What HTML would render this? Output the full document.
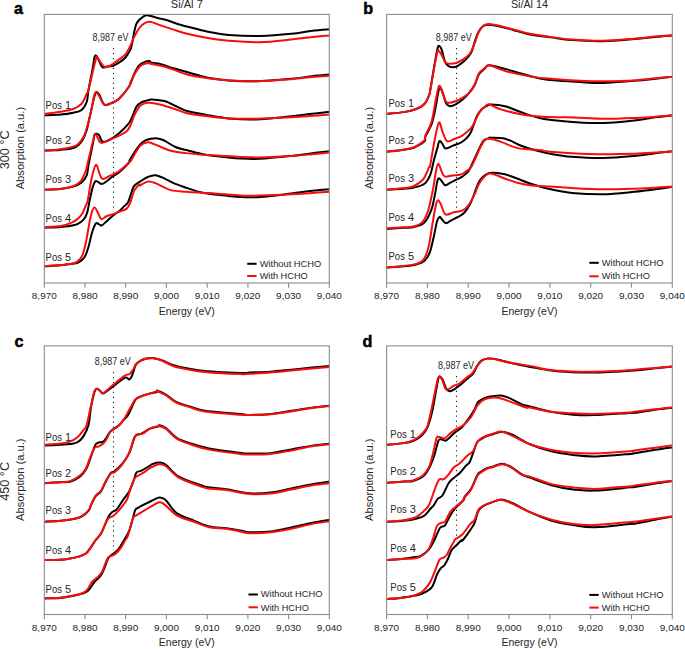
<!DOCTYPE html>
<html><head><meta charset="utf-8"><style>
html,body{margin:0;padding:0;background:#fff;width:685px;height:649px;overflow:hidden}
svg{display:block}
</style></head><body>
<svg width="685" height="649" viewBox="0 0 685 649">
<rect width="685" height="649" fill="#fff"/>
<clipPath id="clipa"><rect x="44.3" y="11.4" width="285.0" height="271.6"/></clipPath>
<line x1="113.5" y1="48.0" x2="113.5" y2="211.5" stroke="#222" stroke-width="1.1" stroke-dasharray="1.25,3.7"/>
<g clip-path="url(#clipa)" fill="none" stroke-width="2" stroke-linejoin="round" stroke-linecap="round">
<path stroke="#000" d="M44.00,266.37 C46.78,266.19 56.37,265.70 60.70,265.32 C65.03,264.94 67.01,264.61 70.00,264.10 C72.99,263.59 76.16,263.48 78.63,262.25 C81.09,261.02 83.15,259.27 84.79,256.70 C86.44,254.13 87.26,250.95 88.49,246.84 C89.72,242.73 90.96,235.95 92.19,232.05 C93.42,228.15 94.65,224.65 95.89,223.42 C97.12,222.19 98.56,224.35 99.58,224.65 C100.61,224.96 100.82,225.89 102.05,225.27 C103.28,224.65 105.13,222.60 106.98,220.96 C108.83,219.31 111.09,217.05 113.14,215.41 C115.20,213.76 117.46,212.63 119.31,211.09 C121.16,209.55 122.80,207.60 124.24,206.16 C125.68,204.73 126.91,204.20 127.94,202.47 C128.96,200.73 129.37,198.51 130.40,195.75 C131.43,192.98 132.50,188.24 134.10,185.89 C135.70,183.53 137.73,183.11 140.00,181.63 C142.27,180.15 145.14,178.09 147.70,177.01 C150.27,175.93 152.58,174.90 155.41,175.16 C158.23,175.42 161.31,177.09 164.65,178.55 C167.99,180.02 171.84,182.40 175.44,183.94 C179.03,185.49 181.86,186.38 186.22,187.80 C190.59,189.21 196.50,191.26 201.63,192.42 C206.77,193.57 210.65,193.96 217.04,194.73 C223.44,195.50 232.83,196.65 240.00,197.04 C247.17,197.43 251.50,197.65 260.07,197.06 C268.63,196.47 282.68,194.55 291.38,193.51 C300.08,192.47 305.82,191.49 312.26,190.80 C318.69,190.10 327.04,189.58 330.00,189.33"/>
<path stroke="#f70d0d" d="M44.00,266.37 C46.78,266.12 56.37,265.28 60.70,264.91 C65.03,264.53 67.22,264.64 70.00,264.10 C72.78,263.55 75.34,263.07 77.40,261.63 C79.45,260.20 80.89,258.76 82.33,255.47 C83.76,252.18 84.79,247.66 86.02,241.91 C87.26,236.16 88.70,226.09 89.72,220.96 C90.75,215.82 91.37,213.35 92.19,211.09 C93.01,208.83 93.73,207.19 94.65,207.40 C95.58,207.60 96.61,210.37 97.73,212.33 C98.86,214.28 99.89,218.49 101.43,219.11 C102.97,219.72 105.03,216.85 106.98,216.02 C108.93,215.20 111.09,214.89 113.14,214.18 C115.20,213.46 117.05,212.63 119.31,211.71 C121.57,210.79 124.85,210.17 126.70,208.63 C128.55,207.09 129.17,205.43 130.40,202.47 C131.63,199.50 132.66,193.79 134.10,190.82 C135.54,187.85 138.05,185.54 139.03,184.65 C140.01,183.76 138.55,185.99 140.00,185.49 C141.45,184.98 145.14,182.02 147.70,181.63 C150.27,181.25 151.56,181.76 155.41,183.17 C159.26,184.59 165.68,188.70 170.82,190.11 C175.95,191.52 181.09,191.21 186.22,191.65 C191.36,192.09 196.50,192.39 201.63,192.73 C206.77,193.06 210.65,193.19 217.04,193.65 C223.44,194.11 232.83,195.18 240.00,195.50 C247.17,195.82 251.50,195.79 260.07,195.60 C268.63,195.40 282.68,194.80 291.38,194.34 C300.08,193.89 305.82,193.30 312.26,192.88 C318.69,192.47 327.04,192.01 330.00,191.84"/>
<path stroke="#000" d="M44.00,227.75 C46.78,227.61 56.37,227.22 60.70,226.91 C65.03,226.60 67.22,226.36 70.00,225.89 C72.78,225.41 75.14,225.06 77.40,224.04 C79.66,223.01 81.92,221.67 83.56,219.72 C85.20,217.77 86.23,215.61 87.26,212.33 C88.28,209.04 88.80,204.20 89.72,200.00 C90.65,195.80 91.78,190.29 92.80,187.12 C93.83,183.94 94.45,181.47 95.89,180.96 C97.32,180.44 99.58,184.04 101.43,184.04 C103.28,184.04 105.03,182.29 106.98,180.96 C108.93,179.62 111.09,177.46 113.14,176.02 C115.20,174.59 116.64,174.59 119.31,172.33 C121.98,170.07 127.38,164.61 129.17,162.47 C130.95,160.32 128.20,162.45 130.01,159.48 C131.81,156.51 137.31,147.90 140.00,144.65 C142.69,141.41 143.60,141.11 146.16,140.03 C148.73,138.95 152.58,138.18 155.41,138.18 C158.23,138.18 159.77,138.57 163.11,140.03 C166.45,141.49 171.59,145.30 175.44,146.96 C179.29,148.63 181.86,148.89 186.22,150.05 C190.59,151.20 196.50,152.87 201.63,153.90 C206.77,154.93 210.65,155.44 217.04,156.21 C223.44,156.98 232.83,158.08 240.00,158.52 C247.17,158.96 251.50,159.29 260.07,158.86 C268.63,158.42 282.68,156.87 291.38,155.93 C300.08,154.99 305.82,154.02 312.26,153.22 C318.69,152.42 327.04,151.48 330.00,151.13"/>
<path stroke="#f70d0d" d="M44.00,227.33 C46.78,227.12 56.37,226.73 60.70,226.08 C65.03,225.42 67.22,224.58 70.00,223.42 C72.78,222.26 75.34,220.75 77.40,219.11 C79.45,217.46 80.89,215.92 82.33,213.56 C83.76,211.20 85.10,207.19 86.02,204.93 C86.95,202.67 86.95,204.41 87.87,200.00 C88.80,195.59 90.24,184.33 91.57,178.49 C92.91,172.65 94.55,165.75 95.89,164.93 C97.22,164.11 98.45,171.20 99.58,173.56 C100.71,175.92 100.82,178.80 102.67,179.11 C104.51,179.41 107.90,176.74 110.68,175.41 C113.45,174.07 116.02,173.46 119.31,171.09 C122.59,168.73 128.34,163.17 130.40,161.23 C132.46,159.30 130.08,161.99 131.68,159.48 C133.28,156.98 137.33,149.05 140.00,146.19 C142.67,143.34 145.14,142.60 147.70,142.34 C150.27,142.09 151.56,143.24 155.41,144.65 C159.26,146.07 165.68,149.40 170.82,150.82 C175.95,152.23 181.09,152.49 186.22,153.13 C191.36,153.77 196.50,154.28 201.63,154.67 C206.77,155.05 210.65,155.05 217.04,155.44 C223.44,155.82 232.83,156.65 240.00,156.98 C247.17,157.31 251.50,157.57 260.07,157.39 C268.63,157.22 282.68,156.45 291.38,155.93 C300.08,155.41 305.82,154.82 312.26,154.26 C318.69,153.71 327.04,152.87 330.00,152.59"/>
<path stroke="#000" d="M44.00,189.75 C46.78,189.61 55.83,189.44 60.70,188.92 C65.57,188.39 69.75,187.70 73.23,186.62 C76.71,185.54 79.32,184.36 81.58,182.45 C83.84,180.53 85.64,178.05 86.80,175.14 C87.95,172.23 87.49,170.16 88.49,165.00 C89.49,159.84 91.78,149.24 92.80,144.17 C93.83,139.09 93.63,136.09 94.65,134.55 C95.68,133.01 97.63,133.73 98.97,134.92 C100.30,136.11 100.71,140.98 102.67,141.70 C104.62,142.42 107.90,140.68 110.68,139.24 C113.45,137.80 116.43,135.54 119.31,133.07 C122.18,130.61 125.88,126.91 127.94,124.45 C129.99,121.98 130.20,121.26 131.63,118.28 C133.07,115.30 134.92,109.24 136.56,106.57 C138.21,103.90 139.26,103.39 141.49,102.26 C143.73,101.13 148.16,100.24 150.00,99.79 C151.84,99.35 150.04,99.35 152.55,99.59 C155.07,99.84 160.91,100.04 165.08,101.26 C169.26,102.48 173.95,105.26 177.61,106.90 C181.26,108.53 181.95,109.68 187.00,111.07 C192.05,112.46 200.92,114.03 207.88,115.25 C214.83,116.47 220.75,117.68 228.75,118.38 C236.75,119.08 245.45,119.77 255.89,119.42 C266.33,119.08 281.99,117.23 291.38,116.29 C300.77,115.35 305.82,114.55 312.26,113.79 C318.69,113.02 327.04,112.05 330.00,111.70"/>
<path stroke="#f70d0d" d="M44.00,189.75 C46.78,189.58 55.83,189.30 60.70,188.71 C65.57,188.12 69.92,187.42 73.23,186.20 C76.53,184.99 78.45,183.94 80.53,181.40 C82.62,178.86 84.63,173.70 85.75,170.96 C86.87,168.23 86.18,169.47 87.26,165.00 C88.33,160.53 90.85,149.28 92.19,144.17 C93.52,139.05 94.24,135.13 95.27,134.31 C96.30,133.48 97.32,137.80 98.35,139.24 C99.38,140.68 99.38,142.94 101.43,142.94 C103.49,142.94 107.70,140.47 110.68,139.24 C113.66,138.00 116.64,136.87 119.31,135.54 C121.98,134.20 124.85,132.87 126.70,131.22 C128.55,129.58 129.17,128.25 130.40,125.68 C131.63,123.11 132.66,118.90 134.10,115.82 C135.54,112.73 137.39,109.24 139.03,107.19 C140.67,105.13 142.13,104.21 143.96,103.49 C145.79,102.77 147.18,102.65 150.00,102.87 C152.82,103.09 156.30,103.62 160.91,104.81 C165.51,106.00 173.26,108.64 177.61,110.03 C181.95,111.42 181.95,112.12 187.00,113.16 C192.05,114.20 200.92,115.42 207.88,116.29 C214.83,117.16 220.75,117.96 228.75,118.38 C236.75,118.80 245.45,118.97 255.89,118.80 C266.33,118.62 281.99,117.82 291.38,117.34 C300.77,116.85 305.82,116.33 312.26,115.87 C318.69,115.42 327.04,114.83 330.00,114.62"/>
<path stroke="#000" d="M44.00,150.51 C45.39,150.47 49.68,150.39 52.35,150.30 C55.02,150.20 56.26,150.40 60.00,149.92 C63.74,149.45 71.09,149.00 74.79,147.46 C78.49,145.92 80.24,143.45 82.19,140.68 C84.14,137.90 85.17,135.13 86.50,130.82 C87.84,126.50 88.74,120.95 90.20,114.79 C91.66,108.64 93.81,97.30 95.27,93.88 C96.73,90.45 97.43,92.44 98.97,94.24 C100.51,96.05 102.15,103.39 104.51,104.72 C106.88,106.06 110.68,103.28 113.14,102.26 C115.61,101.23 116.64,101.23 119.31,98.56 C121.98,95.89 126.70,90.31 129.17,86.23 C131.63,82.16 132.46,77.56 134.10,74.10 C135.74,70.64 137.18,67.52 139.03,65.47 C140.88,63.42 143.36,62.49 145.19,61.77 C147.02,61.05 149.12,61.05 150.00,61.16 C150.88,61.27 148.65,61.94 150.47,62.43 C152.28,62.92 157.08,63.13 160.91,64.10 C164.73,65.08 169.08,66.96 173.43,68.28 C177.78,69.60 181.26,70.47 187.00,72.04 C192.74,73.60 200.92,76.28 207.88,77.67 C214.83,79.06 220.75,79.79 228.75,80.39 C236.75,80.98 245.45,81.50 255.89,81.22 C266.33,80.94 281.99,79.55 291.38,78.72 C300.77,77.88 305.82,76.91 312.26,76.21 C318.69,75.51 327.04,74.82 330.00,74.54"/>
<path stroke="#f70d0d" d="M44.00,150.51 C45.39,150.47 49.68,150.50 52.35,150.30 C55.02,150.10 56.05,150.09 60.00,149.31 C63.95,148.53 72.12,147.66 76.02,145.61 C79.93,143.55 81.47,140.47 83.42,136.98 C85.37,133.49 86.40,129.17 87.73,124.65 C89.07,120.13 90.28,114.99 91.43,109.86 C92.59,104.73 93.54,96.48 94.65,93.88 C95.77,91.27 96.46,92.40 98.10,94.24 C99.75,96.09 102.01,103.63 104.51,104.97 C107.02,106.30 110.68,103.33 113.14,102.26 C115.61,101.19 116.64,101.19 119.31,98.56 C121.98,95.93 127.32,89.12 129.17,86.48 C131.02,83.84 129.37,85.00 130.40,82.73 C131.43,80.46 133.69,75.64 135.33,72.87 C136.97,70.09 138.62,67.63 140.26,66.09 C141.91,64.55 143.57,64.13 145.19,63.62 C146.82,63.11 149.12,62.99 150.00,63.00 C150.88,63.02 148.30,63.15 150.47,63.68 C152.63,64.22 158.82,65.08 162.99,66.19 C167.17,67.30 171.52,68.97 175.52,70.36 C179.52,71.76 181.61,73.22 187.00,74.54 C192.39,75.86 200.92,77.32 207.88,78.30 C214.83,79.27 220.75,79.90 228.75,80.39 C236.75,80.87 245.45,81.43 255.89,81.22 C266.33,81.01 281.99,79.83 291.38,79.13 C300.77,78.44 305.82,77.60 312.26,77.05 C318.69,76.49 327.04,76.00 330.00,75.79"/>
<path stroke="#000" d="M44.00,115.25 C46.78,115.14 55.83,115.04 60.70,114.62 C65.57,114.20 69.75,113.51 73.23,112.74 C76.71,111.98 79.32,111.87 81.58,110.03 C83.84,108.19 85.64,105.02 86.80,101.68 C87.95,98.34 87.49,95.62 88.49,90.00 C89.49,84.38 91.78,73.50 92.80,67.94 C93.83,62.37 93.93,58.44 94.65,56.59 C95.37,54.75 95.84,55.12 97.12,56.84 C98.39,58.57 100.65,65.35 102.30,66.95 C103.94,68.55 105.17,66.66 106.98,66.46 C108.79,66.25 111.09,66.39 113.14,65.72 C115.20,65.04 117.25,63.76 119.31,62.39 C121.36,61.01 123.72,59.41 125.47,57.46 C127.22,55.51 128.76,52.63 129.78,50.68 C130.81,48.73 130.81,49.24 131.63,45.75 C132.46,42.25 133.79,33.63 134.71,29.72 C135.64,25.82 135.64,24.59 137.18,22.33 C138.72,20.07 142.21,17.35 143.96,16.16 C145.71,14.97 145.53,14.91 147.66,15.18 C149.79,15.44 153.48,16.91 156.73,17.76 C159.98,18.61 163.69,19.22 167.17,20.26 C170.65,21.31 174.30,22.98 177.61,24.02 C180.91,25.06 181.95,25.24 187.00,26.53 C192.05,27.81 200.92,30.35 207.88,31.74 C214.83,33.14 220.05,34.18 228.75,34.88 C237.45,35.57 249.63,36.09 260.07,35.92 C270.50,35.75 282.68,34.70 291.38,33.83 C300.08,32.96 305.82,31.47 312.26,30.70 C318.69,29.94 327.04,29.48 330.00,29.24"/>
<path stroke="#f70d0d" d="M44.00,113.79 C46.78,113.44 55.83,112.50 60.70,111.70 C65.57,110.90 69.75,110.31 73.23,108.99 C76.71,107.66 79.32,106.38 81.58,103.77 C83.84,101.16 85.64,95.62 86.80,93.33 C87.95,91.03 86.97,95.67 88.49,90.00 C90.01,84.33 94.28,64.52 95.89,59.31 C97.49,54.09 97.39,58.28 98.10,58.69 C98.82,59.10 99.13,60.40 100.20,61.77 C101.27,63.15 102.97,66.23 104.51,66.95 C106.06,67.67 106.98,67.36 109.45,66.09 C111.91,64.81 116.64,61.26 119.31,59.31 C121.98,57.35 123.62,56.64 125.47,54.38 C127.32,52.12 128.96,48.62 130.40,45.75 C131.84,42.87 132.66,39.99 134.10,37.12 C135.54,34.24 137.39,30.75 139.03,28.49 C140.67,26.23 142.13,24.69 143.96,23.56 C145.79,22.43 147.18,21.39 150.00,21.71 C152.82,22.03 157.00,24.16 160.91,25.48 C164.81,26.81 169.08,28.27 173.43,29.66 C177.78,31.05 181.26,32.44 187.00,33.83 C192.74,35.22 200.92,36.86 207.88,38.01 C214.83,39.16 220.05,40.03 228.75,40.72 C237.45,41.42 249.63,42.39 260.07,42.18 C270.50,41.97 282.68,40.34 291.38,39.47 C300.08,38.60 305.82,37.62 312.26,36.96 C318.69,36.30 327.04,35.75 330.00,35.50"/>
</g>
<rect x="44.3" y="14.4" width="285.0" height="268.6" fill="none" stroke="#8c8c8c" stroke-width="1.1"/>
<line x1="44.3" y1="283.0" x2="44.3" y2="287.7" stroke="#8c8c8c" stroke-width="1.1"/>
<text x="44.30" y="299.30" font-size="9.70" text-anchor="middle" textLength="25.0" lengthAdjust="spacingAndGlyphs" fill="#262626" font-family="Liberation Sans, sans-serif" >8,970</text>
<line x1="85.0" y1="283.0" x2="85.0" y2="287.7" stroke="#8c8c8c" stroke-width="1.1"/>
<text x="85.01" y="299.30" font-size="9.70" text-anchor="middle" textLength="25.0" lengthAdjust="spacingAndGlyphs" fill="#262626" font-family="Liberation Sans, sans-serif" >8,980</text>
<line x1="125.7" y1="283.0" x2="125.7" y2="287.7" stroke="#8c8c8c" stroke-width="1.1"/>
<text x="125.73" y="299.30" font-size="9.70" text-anchor="middle" textLength="25.0" lengthAdjust="spacingAndGlyphs" fill="#262626" font-family="Liberation Sans, sans-serif" >8,990</text>
<line x1="166.4" y1="283.0" x2="166.4" y2="287.7" stroke="#8c8c8c" stroke-width="1.1"/>
<text x="166.44" y="299.30" font-size="9.70" text-anchor="middle" textLength="25.0" lengthAdjust="spacingAndGlyphs" fill="#262626" font-family="Liberation Sans, sans-serif" >9,000</text>
<line x1="207.2" y1="283.0" x2="207.2" y2="287.7" stroke="#8c8c8c" stroke-width="1.1"/>
<text x="207.16" y="299.30" font-size="9.70" text-anchor="middle" textLength="25.0" lengthAdjust="spacingAndGlyphs" fill="#262626" font-family="Liberation Sans, sans-serif" >9,010</text>
<line x1="247.9" y1="283.0" x2="247.9" y2="287.7" stroke="#8c8c8c" stroke-width="1.1"/>
<text x="247.87" y="299.30" font-size="9.70" text-anchor="middle" textLength="25.0" lengthAdjust="spacingAndGlyphs" fill="#262626" font-family="Liberation Sans, sans-serif" >9,020</text>
<line x1="288.6" y1="283.0" x2="288.6" y2="287.7" stroke="#8c8c8c" stroke-width="1.1"/>
<text x="288.59" y="299.30" font-size="9.70" text-anchor="middle" textLength="25.0" lengthAdjust="spacingAndGlyphs" fill="#262626" font-family="Liberation Sans, sans-serif" >9,030</text>
<line x1="329.3" y1="283.0" x2="329.3" y2="287.7" stroke="#8c8c8c" stroke-width="1.1"/>
<text x="329.30" y="299.30" font-size="9.70" text-anchor="middle" textLength="25.0" lengthAdjust="spacingAndGlyphs" fill="#262626" font-family="Liberation Sans, sans-serif" >9,040</text>
<text x="186.80" y="314.50" font-size="10.60" text-anchor="middle" textLength="56.0" lengthAdjust="spacingAndGlyphs" fill="#262626" font-family="Liberation Sans, sans-serif" >Energy (eV)</text>
<line x1="247.2" y1="263.8" x2="256.6" y2="263.8" stroke="#000" stroke-width="2"/>
<line x1="247.2" y1="276.0" x2="256.6" y2="276.0" stroke="#f70d0d" stroke-width="2"/>
<text x="259.70" y="266.60" font-size="9.70" textLength="61.6" lengthAdjust="spacingAndGlyphs" fill="#262626" font-family="Liberation Sans, sans-serif" >Without HCHO</text>
<text x="259.70" y="279.20" font-size="9.70" textLength="48.0" lengthAdjust="spacingAndGlyphs" fill="#262626" font-family="Liberation Sans, sans-serif" >With HCHO</text>
<text transform="translate(23.70,148.10) rotate(-90)" text-anchor="middle" font-size="11" textLength="82.5" lengthAdjust="spacingAndGlyphs" fill="#262626" font-family="Liberation Sans, sans-serif">Absorption (a.u.)</text>
<text transform="translate(9.40,149.85) rotate(-90)" text-anchor="middle" font-size="13.3" textLength="38.9" lengthAdjust="spacingAndGlyphs" fill="#262626" font-family="Liberation Sans, sans-serif">300 °C</text>
<text x="186.80" y="8.20" font-size="10.70" text-anchor="middle" textLength="32.0" lengthAdjust="spacingAndGlyphs" fill="#262626" font-family="Liberation Sans, sans-serif" >Si/Al 7</text>
<text x="45.60" y="108.60" font-size="11.00" textLength="16.4" lengthAdjust="spacingAndGlyphs" fill="#262626" font-family="Liberation Sans, sans-serif" >Pos</text>
<text x="65.10" y="108.60" font-size="11.00" fill="#262626" font-family="Liberation Sans, sans-serif" >1</text>
<text x="45.60" y="144.00" font-size="11.00" textLength="16.4" lengthAdjust="spacingAndGlyphs" fill="#262626" font-family="Liberation Sans, sans-serif" >Pos</text>
<text x="65.10" y="144.00" font-size="11.00" fill="#262626" font-family="Liberation Sans, sans-serif" >2</text>
<text x="45.60" y="182.60" font-size="11.00" textLength="16.4" lengthAdjust="spacingAndGlyphs" fill="#262626" font-family="Liberation Sans, sans-serif" >Pos</text>
<text x="65.10" y="182.60" font-size="11.00" fill="#262626" font-family="Liberation Sans, sans-serif" >3</text>
<text x="45.60" y="221.60" font-size="11.00" textLength="16.4" lengthAdjust="spacingAndGlyphs" fill="#262626" font-family="Liberation Sans, sans-serif" >Pos</text>
<text x="65.10" y="221.60" font-size="11.00" fill="#262626" font-family="Liberation Sans, sans-serif" >4</text>
<text x="45.60" y="261.20" font-size="11.00" textLength="16.4" lengthAdjust="spacingAndGlyphs" fill="#262626" font-family="Liberation Sans, sans-serif" >Pos</text>
<text x="65.10" y="261.20" font-size="11.00" fill="#262626" font-family="Liberation Sans, sans-serif" >5</text>
<text x="92.50" y="40.70" font-size="11.00" textLength="36.0" lengthAdjust="spacingAndGlyphs" fill="#262626" font-family="Liberation Sans, sans-serif" >8,987 eV</text>
<clipPath id="clipb"><rect x="386.6" y="11.4" width="285.7" height="271.6"/></clipPath>
<line x1="456.5" y1="48.0" x2="456.5" y2="210.5" stroke="#222" stroke-width="1.1" stroke-dasharray="1.25,3.7"/>
<g clip-path="url(#clipb)" fill="none" stroke-width="2" stroke-linejoin="round" stroke-linecap="round">
<path stroke="#000" d="M387.00,267.41 C389.78,267.24 398.83,266.85 403.70,266.37 C408.57,265.88 412.75,265.43 416.23,264.49 C419.71,263.55 422.32,262.75 424.58,260.73 C426.84,258.71 428.23,256.55 429.80,252.38 C431.36,248.20 432.75,240.90 433.97,235.68 C435.19,230.46 436.16,224.20 437.10,221.07 C438.04,217.93 438.84,217.24 439.61,216.89 C440.37,216.54 440.65,217.93 441.69,218.98 C442.74,220.02 444.20,222.98 445.87,223.15 C447.54,223.33 449.70,221.07 451.72,220.02 C453.73,218.98 455.89,218.11 457.98,216.89 C460.07,215.67 462.15,214.98 464.24,212.72 C466.33,210.45 468.59,207.15 470.50,203.32 C472.42,199.49 474.16,193.58 475.72,189.75 C477.29,185.92 477.64,183.14 479.90,180.36 C482.16,177.57 485.29,174.09 489.29,173.05 C493.29,172.01 499.38,173.23 503.91,174.09 C508.43,174.96 512.08,176.70 516.43,178.27 C520.78,179.84 524.26,181.65 530.00,183.49 C535.74,185.33 543.92,187.77 550.88,189.33 C557.83,190.90 563.05,192.05 571.75,192.88 C580.45,193.72 592.63,194.52 603.07,194.34 C613.50,194.17 625.68,192.67 634.38,191.84 C643.08,191.00 648.82,190.20 655.26,189.33 C661.69,188.46 670.04,187.07 673.00,186.62"/>
<path stroke="#f70d0d" d="M387.00,267.41 C389.78,267.17 398.83,266.54 403.70,265.95 C408.57,265.36 412.92,264.91 416.23,263.86 C419.53,262.82 421.45,262.64 423.53,259.69 C425.62,256.73 427.19,252.55 428.75,246.12 C430.32,239.68 431.71,228.02 432.93,221.07 C434.14,214.11 435.19,207.84 436.06,204.36 C436.93,200.89 437.35,200.19 438.15,200.19 C438.95,200.19 439.64,202.00 440.86,204.36 C442.08,206.73 443.30,213.06 445.45,214.39 C447.61,215.71 451.02,212.92 453.80,212.30 C456.59,211.67 459.72,211.78 462.15,210.63 C464.59,209.48 466.33,208.19 468.42,205.41 C470.50,202.63 472.77,197.75 474.68,193.93 C476.59,190.10 477.46,185.85 479.90,182.45 C482.33,179.04 485.29,174.16 489.29,173.47 C493.29,172.77 499.38,176.77 503.91,178.27 C508.43,179.77 512.08,181.30 516.43,182.45 C520.78,183.59 524.26,184.46 530.00,185.16 C535.74,185.85 543.92,186.13 550.88,186.62 C557.83,187.11 563.05,187.63 571.75,188.08 C580.45,188.53 592.63,189.23 603.07,189.33 C613.50,189.44 625.68,188.99 634.38,188.71 C643.08,188.43 648.82,188.01 655.26,187.66 C661.69,187.32 670.04,186.79 673.00,186.62"/>
<path stroke="#000" d="M387.00,229.00 C389.78,228.79 399.37,228.05 403.70,227.75 C408.03,227.44 409.60,227.99 413.00,227.18 C416.40,226.37 421.01,225.84 424.09,222.87 C427.18,219.89 429.64,214.24 431.49,209.31 C433.34,204.38 434.16,198.21 435.19,193.28 C436.22,188.35 436.83,182.09 437.65,179.72 C438.48,177.36 438.89,178.18 440.12,179.11 C441.35,180.03 443.41,184.65 445.05,185.27 C446.69,185.89 448.13,183.73 449.98,182.80 C451.83,181.88 454.09,180.75 456.14,179.72 C458.20,178.70 460.25,178.08 462.31,176.64 C464.36,175.20 466.62,173.66 468.47,171.09 C470.32,168.53 472.37,163.34 473.40,161.23 C474.44,159.12 473.07,161.75 474.68,158.44 C476.28,155.12 480.59,144.71 483.03,141.34 C485.46,137.97 488.05,138.83 489.29,138.21 C490.53,137.59 487.84,137.56 490.48,137.64 C493.12,137.72 499.91,137.29 505.15,138.68 C510.39,140.08 517.02,144.13 521.91,146.02 C526.80,147.90 529.66,148.70 534.48,150.00 C539.31,151.30 544.66,152.72 550.88,153.85 C557.09,154.97 563.05,156.07 571.75,156.77 C580.45,157.46 592.63,158.16 603.07,158.02 C613.50,157.88 625.68,156.73 634.38,155.93 C643.08,155.13 648.82,154.02 655.26,153.22 C661.69,152.42 670.04,151.48 673.00,151.13"/>
<path stroke="#f70d0d" d="M387.00,228.37 C389.78,228.20 399.37,227.63 403.70,227.33 C408.03,227.03 410.01,227.31 413.00,226.56 C415.99,225.82 419.16,225.33 421.63,222.87 C424.09,220.40 425.94,217.11 427.79,211.77 C429.64,206.43 431.39,197.39 432.72,190.82 C434.06,184.24 434.88,176.85 435.80,172.33 C436.73,167.81 437.24,163.70 438.27,163.70 C439.30,163.70 440.84,170.17 441.97,172.33 C443.10,174.48 443.30,176.13 445.05,176.64 C446.80,177.15 449.98,175.72 452.45,175.41 C454.91,175.10 457.79,175.31 459.84,174.79 C461.90,174.28 462.92,173.56 464.77,172.33 C466.62,171.09 469.29,169.45 470.94,167.40 C472.58,165.34 472.62,164.17 474.63,160.00 C476.65,155.83 480.56,145.94 483.03,142.39 C485.50,138.83 486.44,138.78 489.43,138.68 C492.42,138.59 496.24,140.26 500.96,141.83 C505.67,143.40 511.43,146.75 517.72,148.11 C524.01,149.48 533.15,149.39 538.67,150.00 C544.20,150.61 545.36,151.22 550.88,151.76 C556.39,152.29 563.05,152.80 571.75,153.22 C580.45,153.64 592.63,154.16 603.07,154.26 C613.50,154.37 625.68,154.12 634.38,153.85 C643.08,153.57 648.82,153.05 655.26,152.59 C661.69,152.14 670.04,151.37 673.00,151.13"/>
<path stroke="#000" d="M387.00,189.75 C389.78,189.58 399.37,189.04 403.70,188.71 C408.03,188.37 409.60,188.51 413.00,187.73 C416.40,186.96 421.22,186.19 424.09,184.04 C426.97,181.88 428.61,178.80 430.26,174.79 C431.90,170.79 432.83,164.28 433.96,160.00 C435.09,155.72 436.11,152.25 437.04,149.10 C437.96,145.95 438.58,141.91 439.50,141.09 C440.43,140.26 441.56,142.94 442.58,144.17 C443.61,145.40 443.82,148.28 445.67,148.48 C447.51,148.69 450.90,146.53 453.68,145.40 C456.45,144.27 459.64,143.55 462.31,141.70 C464.98,139.85 467.85,136.98 469.70,134.31 C471.55,131.64 472.17,128.76 473.40,125.68 C474.63,122.60 475.66,118.59 477.10,115.82 C478.54,113.04 480.39,110.68 482.03,109.04 C483.67,107.39 485.55,106.71 486.96,105.96 C488.37,105.20 487.45,104.49 490.48,104.53 C493.51,104.57 499.91,104.88 505.15,106.20 C510.39,107.53 515.62,110.39 521.91,112.49 C528.20,114.59 535.88,117.31 542.87,118.78 C549.85,120.24 557.64,120.66 563.82,121.29 C570.00,121.92 573.42,122.27 579.96,122.55 C586.50,122.83 594.00,123.32 603.07,122.97 C612.14,122.63 625.68,121.41 634.38,120.47 C643.08,119.53 648.82,118.21 655.26,117.34 C661.69,116.47 670.04,115.60 673.00,115.25"/>
<path stroke="#f70d0d" d="M387.00,189.75 C389.78,189.47 399.37,188.62 403.70,188.08 C408.03,187.54 409.81,187.90 413.00,186.50 C416.19,185.11 420.19,182.91 422.86,179.72 C425.53,176.54 427.79,169.85 429.02,167.40 C430.26,164.94 429.33,169.49 430.26,165.00 C431.18,160.51 433.13,147.54 434.57,140.47 C436.01,133.40 437.55,124.03 438.89,122.60 C440.22,121.16 441.25,128.76 442.58,131.84 C443.92,134.92 445.05,139.85 446.90,141.09 C448.75,142.32 451.11,140.16 453.68,139.24 C456.25,138.31 459.43,137.39 462.31,135.54 C465.18,133.69 468.88,130.40 470.94,128.14 C472.99,125.88 473.20,124.65 474.63,121.98 C476.07,119.31 477.71,114.79 479.56,112.12 C481.41,109.45 484.08,107.22 485.73,105.96 C487.37,104.69 486.89,103.96 489.43,104.53 C491.97,105.09 495.54,107.67 500.96,109.35 C506.37,111.02 514.93,113.36 521.91,114.59 C528.90,115.81 533.19,116.16 542.87,116.68 C552.54,117.20 569.92,117.38 579.96,117.73 C589.99,118.08 594.00,118.76 603.07,118.80 C612.14,118.84 625.68,118.31 634.38,117.96 C643.08,117.61 648.82,117.16 655.26,116.71 C661.69,116.26 670.04,115.49 673.00,115.25"/>
<path stroke="#000" d="M387.00,151.76 C389.78,151.41 399.18,150.36 403.70,149.67 C408.22,148.98 410.66,148.99 414.14,147.61 C417.62,146.22 422.71,143.15 424.58,141.34 C426.44,139.54 424.17,139.59 425.33,136.77 C426.48,133.96 429.85,128.97 431.49,124.45 C433.13,119.93 434.06,114.99 435.19,109.65 C436.32,104.31 437.45,96.20 438.27,92.40 C439.09,88.60 439.40,86.85 440.12,86.85 C440.84,86.85 441.56,89.62 442.58,92.40 C443.61,95.17 445.05,101.19 446.28,103.49 C447.51,105.79 448.34,106.10 449.98,106.20 C451.62,106.30 454.09,105.17 456.14,104.11 C458.20,103.04 460.25,101.54 462.31,99.79 C464.36,98.05 466.42,96.09 468.47,93.63 C470.52,91.16 472.90,88.18 474.63,85.00 C476.36,81.82 477.11,77.33 478.85,74.54 C480.60,71.75 483.35,69.81 485.12,68.28 C486.88,66.74 486.09,65.24 489.43,65.34 C492.77,65.44 499.73,67.51 505.15,68.90 C510.56,70.30 515.62,72.05 521.91,73.72 C528.20,75.40 535.88,77.74 542.87,78.96 C549.85,80.18 557.64,80.53 563.82,81.06 C570.00,81.58 573.42,81.80 579.96,82.10 C586.50,82.41 594.00,83.11 603.07,82.89 C612.14,82.67 625.68,81.50 634.38,80.80 C643.08,80.11 648.82,79.41 655.26,78.72 C661.69,78.02 670.04,76.98 673.00,76.63"/>
<path stroke="#f70d0d" d="M387.00,151.76 C389.78,151.41 399.18,150.43 403.70,149.67 C408.22,148.91 410.66,148.75 414.14,147.19 C417.62,145.63 422.71,142.24 424.58,140.30 C426.44,138.36 424.17,138.59 425.33,135.54 C426.48,132.49 429.74,127.94 431.49,121.98 C433.24,116.02 434.57,105.75 435.80,99.79 C437.04,93.83 437.96,87.88 438.89,86.23 C439.81,84.59 440.22,87.47 441.35,89.93 C442.48,92.40 444.43,98.87 445.67,101.02 C446.90,103.18 447.00,102.87 448.75,102.87 C450.49,102.87 453.88,101.85 456.14,101.02 C458.40,100.20 460.05,99.38 462.31,97.94 C464.57,96.50 467.65,94.55 469.70,92.40 C471.76,90.24 473.11,88.15 474.63,85.00 C476.16,81.85 477.11,76.35 478.85,73.50 C480.60,70.64 483.35,69.22 485.12,67.86 C486.88,66.50 485.74,64.71 489.43,65.34 C493.12,65.97 500.08,69.71 507.24,71.63 C514.40,73.55 524.70,75.64 532.39,76.87 C540.07,78.09 545.42,78.33 553.34,78.96 C561.27,79.59 571.67,80.26 579.96,80.64 C588.24,81.01 594.00,81.26 603.07,81.22 C612.14,81.18 625.68,80.87 634.38,80.39 C643.08,79.90 648.82,78.92 655.26,78.30 C661.69,77.67 670.04,76.91 673.00,76.63"/>
<path stroke="#000" d="M387.00,113.79 C389.78,113.51 398.83,112.92 403.70,112.12 C408.57,111.32 412.75,110.38 416.23,108.99 C419.71,107.59 422.32,106.38 424.58,103.77 C426.84,101.16 428.85,95.62 429.80,93.33 C430.74,91.03 429.05,97.11 430.26,90.00 C431.46,82.89 435.50,57.95 437.04,50.68 C438.58,43.41 438.68,46.36 439.50,46.36 C440.32,46.36 441.04,48.11 441.97,50.68 C442.89,53.25 443.92,59.20 445.05,61.77 C446.18,64.34 447.51,65.16 448.75,66.09 C449.98,67.01 451.01,67.32 452.45,67.32 C453.88,67.32 455.32,67.22 457.38,66.09 C459.43,64.96 462.51,62.70 464.77,60.54 C467.03,58.38 469.29,56.22 470.94,53.14 C472.58,50.06 473.40,45.54 474.63,42.05 C475.87,38.56 476.89,34.86 478.33,32.19 C479.77,29.52 481.44,27.25 483.26,26.02 C485.09,24.80 486.55,24.77 489.29,24.86 C492.04,24.94 495.90,25.73 499.73,26.53 C503.56,27.33 507.21,28.33 512.26,29.66 C517.30,30.98 523.56,33.17 530.00,34.46 C536.44,35.75 543.92,36.44 550.88,37.38 C557.83,38.32 563.05,39.47 571.75,40.09 C580.45,40.72 592.63,41.31 603.07,41.14 C613.50,40.96 625.68,39.75 634.38,39.05 C643.08,38.36 648.82,37.55 655.26,36.96 C661.69,36.37 670.04,35.75 673.00,35.50"/>
<path stroke="#f70d0d" d="M387.00,113.79 C389.78,113.51 398.83,112.92 403.70,112.12 C408.57,111.32 412.75,110.38 416.23,108.99 C419.71,107.59 422.32,106.38 424.58,103.77 C426.84,101.16 428.85,95.62 429.80,93.33 C430.74,91.03 429.05,96.70 430.26,90.00 C431.46,83.30 435.60,59.59 437.04,53.14 C438.48,46.69 438.17,51.09 438.89,51.29 C439.61,51.50 440.32,52.63 441.35,54.38 C442.38,56.12 443.82,60.23 445.05,61.77 C446.28,63.31 446.90,63.42 448.75,63.62 C450.60,63.83 453.88,63.62 456.14,63.00 C458.40,62.39 460.05,61.46 462.31,59.92 C464.57,58.38 467.65,56.53 469.70,53.76 C471.76,50.99 473.20,46.77 474.63,43.28 C476.07,39.79 476.89,35.68 478.33,32.80 C479.77,29.93 481.44,27.49 483.26,26.02 C485.09,24.56 485.85,23.87 489.29,24.02 C492.73,24.17 499.38,25.90 503.91,26.94 C508.43,27.99 512.08,29.14 516.43,30.28 C520.78,31.43 524.26,32.72 530.00,33.83 C535.74,34.95 543.92,36.02 550.88,36.96 C557.83,37.90 563.05,38.84 571.75,39.47 C580.45,40.09 592.63,40.86 603.07,40.72 C613.50,40.58 625.68,39.33 634.38,38.63 C643.08,37.94 648.82,37.10 655.26,36.55 C661.69,35.99 670.04,35.50 673.00,35.29"/>
</g>
<rect x="386.6" y="14.4" width="285.7" height="268.6" fill="none" stroke="#8c8c8c" stroke-width="1.1"/>
<line x1="386.6" y1="283.0" x2="386.6" y2="287.7" stroke="#8c8c8c" stroke-width="1.1"/>
<text x="386.60" y="299.30" font-size="9.70" text-anchor="middle" textLength="25.0" lengthAdjust="spacingAndGlyphs" fill="#262626" font-family="Liberation Sans, sans-serif" >8,970</text>
<line x1="427.4" y1="283.0" x2="427.4" y2="287.7" stroke="#8c8c8c" stroke-width="1.1"/>
<text x="427.41" y="299.30" font-size="9.70" text-anchor="middle" textLength="25.0" lengthAdjust="spacingAndGlyphs" fill="#262626" font-family="Liberation Sans, sans-serif" >8,980</text>
<line x1="468.2" y1="283.0" x2="468.2" y2="287.7" stroke="#8c8c8c" stroke-width="1.1"/>
<text x="468.23" y="299.30" font-size="9.70" text-anchor="middle" textLength="25.0" lengthAdjust="spacingAndGlyphs" fill="#262626" font-family="Liberation Sans, sans-serif" >8,990</text>
<line x1="509.0" y1="283.0" x2="509.0" y2="287.7" stroke="#8c8c8c" stroke-width="1.1"/>
<text x="509.04" y="299.30" font-size="9.70" text-anchor="middle" textLength="25.0" lengthAdjust="spacingAndGlyphs" fill="#262626" font-family="Liberation Sans, sans-serif" >9,000</text>
<line x1="549.9" y1="283.0" x2="549.9" y2="287.7" stroke="#8c8c8c" stroke-width="1.1"/>
<text x="549.86" y="299.30" font-size="9.70" text-anchor="middle" textLength="25.0" lengthAdjust="spacingAndGlyphs" fill="#262626" font-family="Liberation Sans, sans-serif" >9,010</text>
<line x1="590.7" y1="283.0" x2="590.7" y2="287.7" stroke="#8c8c8c" stroke-width="1.1"/>
<text x="590.67" y="299.30" font-size="9.70" text-anchor="middle" textLength="25.0" lengthAdjust="spacingAndGlyphs" fill="#262626" font-family="Liberation Sans, sans-serif" >9,020</text>
<line x1="631.5" y1="283.0" x2="631.5" y2="287.7" stroke="#8c8c8c" stroke-width="1.1"/>
<text x="631.49" y="299.30" font-size="9.70" text-anchor="middle" textLength="25.0" lengthAdjust="spacingAndGlyphs" fill="#262626" font-family="Liberation Sans, sans-serif" >9,030</text>
<line x1="672.3" y1="283.0" x2="672.3" y2="287.7" stroke="#8c8c8c" stroke-width="1.1"/>
<text x="672.30" y="299.30" font-size="9.70" text-anchor="middle" textLength="25.0" lengthAdjust="spacingAndGlyphs" fill="#262626" font-family="Liberation Sans, sans-serif" >9,040</text>
<text x="529.45" y="314.50" font-size="10.60" text-anchor="middle" textLength="56.0" lengthAdjust="spacingAndGlyphs" fill="#262626" font-family="Liberation Sans, sans-serif" >Energy (eV)</text>
<line x1="589.3" y1="262.8" x2="598.7" y2="262.8" stroke="#000" stroke-width="2"/>
<line x1="589.3" y1="276.3" x2="598.7" y2="276.3" stroke="#f70d0d" stroke-width="2"/>
<text x="601.80" y="265.80" font-size="9.70" textLength="61.6" lengthAdjust="spacingAndGlyphs" fill="#262626" font-family="Liberation Sans, sans-serif" >Without HCHO</text>
<text x="601.80" y="279.20" font-size="9.70" textLength="48.0" lengthAdjust="spacingAndGlyphs" fill="#262626" font-family="Liberation Sans, sans-serif" >With HCHO</text>
<text transform="translate(372.50,148.10) rotate(-90)" text-anchor="middle" font-size="11" textLength="82.5" lengthAdjust="spacingAndGlyphs" fill="#262626" font-family="Liberation Sans, sans-serif">Absorption (a.u.)</text>
<text x="529.45" y="8.20" font-size="10.70" text-anchor="middle" textLength="37.0" lengthAdjust="spacingAndGlyphs" fill="#262626" font-family="Liberation Sans, sans-serif" >Si/Al 14</text>
<text x="388.50" y="107.00" font-size="11.00" textLength="16.4" lengthAdjust="spacingAndGlyphs" fill="#262626" font-family="Liberation Sans, sans-serif" >Pos</text>
<text x="408.00" y="107.00" font-size="11.00" fill="#262626" font-family="Liberation Sans, sans-serif" >1</text>
<text x="388.50" y="144.00" font-size="11.00" textLength="16.4" lengthAdjust="spacingAndGlyphs" fill="#262626" font-family="Liberation Sans, sans-serif" >Pos</text>
<text x="408.00" y="144.00" font-size="11.00" fill="#262626" font-family="Liberation Sans, sans-serif" >2</text>
<text x="388.50" y="182.00" font-size="11.00" textLength="16.4" lengthAdjust="spacingAndGlyphs" fill="#262626" font-family="Liberation Sans, sans-serif" >Pos</text>
<text x="408.00" y="182.00" font-size="11.00" fill="#262626" font-family="Liberation Sans, sans-serif" >3</text>
<text x="388.50" y="220.80" font-size="11.00" textLength="16.4" lengthAdjust="spacingAndGlyphs" fill="#262626" font-family="Liberation Sans, sans-serif" >Pos</text>
<text x="408.00" y="220.80" font-size="11.00" fill="#262626" font-family="Liberation Sans, sans-serif" >4</text>
<text x="388.50" y="259.70" font-size="11.00" textLength="16.4" lengthAdjust="spacingAndGlyphs" fill="#262626" font-family="Liberation Sans, sans-serif" >Pos</text>
<text x="408.00" y="259.70" font-size="11.00" fill="#262626" font-family="Liberation Sans, sans-serif" >5</text>
<text x="435.80" y="40.70" font-size="11.00" textLength="36.0" lengthAdjust="spacingAndGlyphs" fill="#262626" font-family="Liberation Sans, sans-serif" >8,987 eV</text>
<clipPath id="clipc"><rect x="44.3" y="342.9" width="285.0" height="271.6"/></clipPath>
<line x1="113.5" y1="372.0" x2="113.5" y2="550.5" stroke="#222" stroke-width="1.1" stroke-dasharray="1.25,3.7"/>
<g clip-path="url(#clipc)" fill="none" stroke-width="2" stroke-linejoin="round" stroke-linecap="round">
<path stroke="#000" d="M44.00,598.41 C46.67,598.33 55.28,598.32 60.00,597.94 C64.72,597.55 68.63,596.81 72.33,596.09 C76.02,595.37 79.52,594.55 82.19,593.62 C84.86,592.70 86.30,592.49 88.35,590.54 C90.41,588.59 92.46,584.38 94.51,581.91 C96.57,579.45 99.03,578.01 100.68,575.75 C102.32,573.49 103.14,571.23 104.38,568.35 C105.61,565.48 106.84,560.75 108.07,558.49 C109.31,556.23 110.13,556.23 111.77,554.79 C113.42,553.35 115.88,552.33 117.94,549.86 C119.99,547.40 122.23,543.17 124.10,540.00 C125.97,536.83 127.71,534.40 129.17,530.82 C130.63,527.23 131.84,521.98 132.87,518.49 C133.89,515.00 134.30,511.71 135.33,509.86 C136.36,508.01 138.25,507.93 139.03,507.40 C139.81,506.86 138.04,507.69 140.00,506.67 C141.96,505.65 147.55,502.79 150.79,501.28 C154.02,499.77 156.90,497.79 159.41,497.61 C161.93,497.43 163.01,497.61 165.89,500.20 C168.76,502.79 172.00,509.73 176.67,513.14 C181.35,516.56 188.54,518.46 193.93,520.69 C199.32,522.92 203.64,525.26 209.03,526.52 C214.42,527.78 221.11,527.60 226.29,528.24 C231.46,528.89 236.20,529.74 240.09,530.40 C243.98,531.07 244.56,532.03 249.63,532.23 C254.70,532.43 263.55,532.41 270.50,531.61 C277.46,530.81 284.42,528.89 291.38,527.43 C298.34,525.97 305.82,524.13 312.26,522.84 C318.69,521.55 327.04,520.23 330.00,519.71"/>
<path stroke="#f70d0d" d="M44.00,598.41 C46.67,598.29 55.28,598.14 60.00,597.69 C64.72,597.24 68.63,596.46 72.33,595.72 C76.02,594.98 79.72,594.22 82.19,593.25 C84.65,592.29 85.48,591.81 87.12,589.92 C88.76,588.03 90.41,583.97 92.05,581.91 C93.69,579.86 95.34,579.24 96.98,577.60 C98.62,575.95 100.27,575.03 101.91,572.05 C103.55,569.07 105.61,562.29 106.84,559.72 C108.07,557.15 108.07,557.46 109.31,556.64 C110.54,555.82 112.39,556.13 114.24,554.79 C116.09,553.46 118.55,551.09 120.40,548.63 C122.25,546.16 124.08,542.15 125.33,540.00 C126.59,537.85 126.68,539.33 127.94,535.75 C129.19,532.16 131.63,521.78 132.87,518.49 C134.10,515.20 134.14,516.92 135.33,516.02 C136.52,515.13 137.42,514.70 140.00,513.14 C142.58,511.58 147.55,508.47 150.79,506.67 C154.02,504.87 156.90,502.54 159.41,502.36 C161.93,502.18 163.01,503.44 165.89,505.59 C168.76,507.75 172.00,512.60 176.67,515.30 C181.35,518.00 188.54,519.79 193.93,521.77 C199.32,523.75 203.64,526.01 209.03,527.16 C214.42,528.32 221.11,527.96 226.29,528.67 C231.46,529.39 236.20,530.71 240.09,531.48 C243.98,532.25 244.56,533.15 249.63,533.28 C254.70,533.40 263.55,533.00 270.50,532.23 C277.46,531.47 284.42,530.08 291.38,528.68 C298.34,527.29 305.82,525.14 312.26,523.88 C318.69,522.63 327.04,521.62 330.00,521.17"/>
<path stroke="#000" d="M44.00,560.00 C46.67,559.95 55.69,559.97 60.00,559.72 C64.31,559.47 66.78,559.00 69.86,558.49 C72.94,557.98 75.82,557.46 78.49,556.64 C81.16,555.82 83.83,555.10 85.89,553.56 C87.94,552.02 89.17,549.66 90.82,547.40 C92.46,545.14 94.08,542.25 95.75,540.00 C97.41,537.75 99.36,536.25 100.82,533.90 C102.28,531.55 103.28,528.66 104.51,525.89 C105.75,523.11 106.98,519.52 108.21,517.26 C109.45,515.00 110.47,513.66 111.91,512.33 C113.35,510.99 114.99,511.30 116.84,509.24 C118.69,507.19 120.95,502.95 123.00,500.00 C125.06,497.05 127.32,495.02 129.17,491.56 C131.02,488.10 132.87,482.42 134.10,479.24 C135.33,476.05 135.33,473.90 136.56,472.46 C137.80,471.02 139.26,471.74 141.49,470.61 C143.73,469.48 148.16,466.78 150.00,465.68 C151.84,464.58 150.99,464.51 152.55,463.99 C154.12,463.47 157.19,462.44 159.41,462.57 C161.64,462.69 162.65,462.39 165.89,464.72 C169.12,467.06 173.08,473.21 178.83,476.59 C184.58,479.97 195.56,483.21 200.40,485.00 C205.24,486.79 203.85,486.68 207.88,487.35 C211.91,488.02 217.62,488.05 224.58,489.02 C231.54,489.99 241.97,492.60 249.63,493.20 C257.28,493.79 263.55,493.37 270.50,492.57 C277.46,491.77 284.42,489.79 291.38,488.39 C298.34,487.00 305.82,485.37 312.26,484.22 C318.69,483.07 327.04,481.96 330.00,481.51"/>
<path stroke="#f70d0d" d="M44.00,560.00 C46.67,559.95 55.69,559.97 60.00,559.72 C64.31,559.47 66.78,559.00 69.86,558.49 C72.94,557.98 75.82,557.46 78.49,556.64 C81.16,555.82 83.83,555.10 85.89,553.56 C87.94,552.02 89.17,549.66 90.82,547.40 C92.46,545.14 94.08,542.25 95.75,540.00 C97.41,537.75 99.36,536.25 100.82,533.90 C102.28,531.55 103.28,528.45 104.51,525.89 C105.75,523.32 106.77,520.13 108.21,518.49 C109.65,516.85 111.29,517.46 113.14,516.02 C114.99,514.59 117.05,512.53 119.31,509.86 C121.57,507.19 125.06,502.84 126.70,500.00 C128.35,497.16 127.94,496.26 129.17,492.80 C130.40,489.34 132.76,482.01 134.10,479.24 C135.43,476.46 135.54,477.29 137.18,476.16 C138.82,475.03 141.82,473.79 143.96,472.46 C146.10,471.12 147.52,469.55 150.00,468.14 C152.48,466.73 157.25,464.67 158.82,463.99 C160.39,463.31 158.24,463.70 159.41,464.08 C160.59,464.45 162.65,463.97 165.89,466.23 C169.12,468.50 173.08,474.32 178.83,477.67 C184.58,481.01 195.56,484.51 200.40,486.29 C205.24,488.08 203.85,487.80 207.88,488.39 C211.91,488.99 217.62,488.92 224.58,489.86 C231.54,490.79 241.97,493.40 249.63,494.03 C257.28,494.66 263.55,494.38 270.50,493.61 C277.46,492.85 284.42,490.83 291.38,489.44 C298.34,488.05 305.82,486.31 312.26,485.26 C318.69,484.22 327.04,483.52 330.00,483.18"/>
<path stroke="#000" d="M44.00,521.80 C46.78,521.62 55.83,521.20 60.70,520.75 C65.57,520.30 69.75,519.78 73.23,519.08 C76.71,518.39 78.97,518.04 81.58,516.58 C84.19,515.12 87.32,512.24 88.88,510.31 C90.45,508.38 89.79,507.41 90.96,505.00 C92.12,502.59 94.24,498.12 95.89,495.88 C97.53,493.64 99.17,493.93 100.82,491.56 C102.46,489.20 104.10,484.78 105.75,481.70 C107.39,478.62 109.24,474.82 110.68,473.07 C112.12,471.33 112.53,472.66 114.38,471.22 C116.22,469.79 119.31,467.42 121.77,464.45 C124.24,461.47 127.11,457.67 129.17,453.35 C131.22,449.04 132.87,441.64 134.10,438.56 C135.33,435.48 135.33,435.68 136.56,434.86 C137.80,434.04 139.26,434.66 141.49,433.63 C143.73,432.60 147.11,429.90 150.00,428.70 C152.89,427.50 157.25,426.99 158.82,426.42 C160.39,425.84 158.24,424.97 159.41,425.25 C160.59,425.52 163.01,425.97 165.89,428.05 C168.76,430.14 172.72,435.24 176.67,437.76 C180.63,440.27 184.22,441.35 189.61,443.15 C195.01,444.95 200.62,446.93 209.03,448.54 C217.44,450.16 233.33,452.02 240.09,452.86 C246.86,453.69 244.56,453.51 249.63,453.55 C254.70,453.60 263.55,453.83 270.50,453.14 C277.46,452.44 284.42,450.63 291.38,449.38 C298.34,448.13 305.82,446.60 312.26,445.62 C318.69,444.65 327.04,443.88 330.00,443.53"/>
<path stroke="#f70d0d" d="M44.00,521.80 C46.78,521.62 55.83,521.20 60.70,520.75 C65.57,520.30 69.75,519.85 73.23,519.08 C76.71,518.32 78.97,517.69 81.58,516.16 C84.19,514.63 87.32,511.76 88.88,509.90 C90.45,508.04 89.79,507.44 90.96,505.00 C92.12,502.56 94.24,497.60 95.89,495.26 C97.53,492.92 99.17,493.31 100.82,490.95 C102.46,488.59 104.10,483.96 105.75,481.09 C107.39,478.21 109.14,475.23 110.68,473.69 C112.22,472.15 113.14,473.28 114.99,471.84 C116.84,470.40 119.41,468.25 121.77,465.06 C124.13,461.88 127.11,457.25 129.17,452.73 C131.22,448.22 132.76,440.92 134.10,437.94 C135.43,434.96 135.74,435.58 137.18,434.86 C138.62,434.14 140.59,434.66 142.73,433.63 C144.86,432.60 147.32,429.97 150.00,428.70 C152.68,427.43 157.25,426.43 158.82,426.00 C160.39,425.57 158.24,425.62 159.41,426.11 C160.59,426.60 163.01,426.83 165.89,428.91 C168.76,431.00 172.72,436.10 176.67,438.62 C180.63,441.14 184.22,442.18 189.61,444.01 C195.01,445.85 200.62,447.97 209.03,449.62 C217.44,451.28 233.33,453.11 240.09,453.94 C246.86,454.77 244.56,454.59 249.63,454.60 C254.70,454.60 263.55,454.67 270.50,453.97 C277.46,453.28 284.42,451.71 291.38,450.42 C298.34,449.14 305.82,447.29 312.26,446.25 C318.69,445.20 327.04,444.51 330.00,444.16"/>
<path stroke="#000" d="M44.00,483.18 C46.78,483.00 56.37,482.38 60.70,482.13 C65.03,481.89 66.81,482.60 70.00,481.70 C73.19,480.81 77.19,478.83 79.86,476.77 C82.53,474.72 84.28,472.46 86.02,469.38 C87.77,466.29 89.11,461.57 90.34,458.28 C91.57,454.99 92.50,452.02 93.42,449.65 C94.35,447.29 94.86,445.34 95.89,444.11 C96.91,442.87 98.35,442.67 99.58,442.26 C100.82,441.85 102.05,442.57 103.28,441.64 C104.51,440.72 105.75,438.46 106.98,436.71 C108.21,434.96 108.62,433.12 110.68,431.16 C112.73,429.21 117.20,426.84 119.31,425.00 C121.42,423.16 121.96,421.66 123.33,420.15 C124.69,418.65 126.11,418.07 127.50,415.98 C128.90,413.89 130.29,410.41 131.68,407.63 C133.07,404.84 133.77,401.36 135.85,399.28 C137.94,397.19 140.73,396.32 144.20,395.10 C147.68,393.88 154.55,392.70 156.73,391.97 C158.91,391.24 155.73,390.29 157.26,390.73 C158.78,391.17 162.65,392.71 165.89,394.61 C169.12,396.52 172.72,400.19 176.67,402.16 C180.63,404.14 184.94,405.04 189.61,406.48 C194.29,407.92 196.30,409.54 204.71,410.79 C213.13,412.05 232.61,413.34 240.09,414.03 C247.58,414.72 244.56,414.96 249.63,414.93 C254.70,414.91 263.55,414.59 270.50,413.89 C277.46,413.19 284.42,411.80 291.38,410.76 C298.34,409.72 305.82,408.50 312.26,407.63 C318.69,406.76 327.04,405.89 330.00,405.54"/>
<path stroke="#f70d0d" d="M44.00,483.18 C46.78,483.00 56.37,482.48 60.70,482.13 C65.03,481.78 66.81,482.18 70.00,481.09 C73.19,479.99 77.19,477.70 79.86,475.54 C82.53,473.38 84.28,471.22 86.02,468.14 C87.77,465.06 88.90,460.44 90.34,457.05 C91.78,453.66 93.32,449.55 94.65,447.80 C95.99,446.06 96.91,447.29 98.35,446.57 C99.79,445.85 101.84,444.83 103.28,443.49 C104.72,442.15 105.75,440.61 106.98,438.56 C108.21,436.50 108.83,433.22 110.68,431.16 C112.53,429.11 115.97,428.07 118.07,426.23 C120.18,424.40 121.06,423.60 123.33,420.15 C125.60,416.70 129.42,409.19 131.68,405.54 C133.94,401.89 132.72,400.60 136.90,398.23 C141.07,395.87 153.34,392.52 156.73,391.34 C160.12,390.17 155.73,390.51 157.26,391.16 C158.78,391.82 162.65,393.32 165.89,395.26 C169.12,397.20 172.72,400.83 176.67,402.81 C180.63,404.79 184.94,405.69 189.61,407.13 C194.29,408.56 196.30,410.18 204.71,411.44 C213.13,412.70 232.61,414.09 240.09,414.68 C247.58,415.26 244.56,415.00 249.63,414.93 C254.70,414.87 263.55,414.90 270.50,414.31 C277.46,413.72 284.42,412.43 291.38,411.39 C298.34,410.34 305.82,408.95 312.26,408.05 C318.69,407.14 327.04,406.31 330.00,405.96"/>
<path stroke="#000" d="M44.00,445.62 C46.78,445.48 56.37,445.04 60.70,444.79 C65.03,444.53 67.22,444.53 70.00,444.11 C72.78,443.68 75.14,443.59 77.40,442.26 C79.66,440.92 81.71,438.97 83.56,436.09 C85.41,433.22 87.25,429.74 88.49,425.00 C89.73,420.26 89.97,413.13 90.97,407.63 C91.98,402.12 93.48,395.10 94.52,391.97 C95.56,388.84 96.26,389.01 97.23,388.84 C98.21,388.67 99.32,390.16 100.36,390.93 C101.41,391.69 101.41,394.16 103.50,393.43 C105.58,392.70 109.34,389.15 112.89,386.54 C116.44,383.93 122.04,378.96 124.79,377.78 C127.54,376.59 128.16,379.83 129.38,379.45 C130.60,379.06 131.02,377.91 132.10,375.48 C133.17,373.04 134.60,367.20 135.85,364.83 C137.11,362.47 138.08,362.29 139.61,361.28 C141.14,360.27 142.82,359.33 145.04,358.78 C147.26,358.22 150.19,357.72 152.94,357.94 C155.70,358.16 157.98,358.84 161.57,360.10 C165.17,361.36 169.84,364.05 174.51,365.49 C179.19,366.93 184.58,367.83 189.61,368.73 C194.65,369.63 196.30,370.17 204.71,370.89 C213.13,371.61 232.61,372.76 240.09,373.04 C247.58,373.32 244.56,372.78 249.63,372.56 C254.70,372.34 263.55,372.21 270.50,371.72 C277.46,371.23 284.42,370.33 291.38,369.63 C298.34,368.94 305.82,368.17 312.26,367.55 C318.69,366.92 327.04,366.15 330.00,365.88"/>
<path stroke="#f70d0d" d="M44.00,444.79 C46.78,444.58 56.37,444.06 60.70,443.53 C65.03,443.01 67.22,442.68 70.00,441.64 C72.78,440.61 75.14,439.28 77.40,437.33 C79.66,435.37 82.02,431.99 83.56,429.93 C85.10,427.88 85.41,429.07 86.64,425.00 C87.88,420.93 89.66,411.22 90.97,405.54 C92.28,399.86 93.48,393.71 94.52,390.93 C95.56,388.14 96.26,388.77 97.23,388.84 C98.21,388.91 99.32,390.65 100.36,391.34 C101.41,392.04 101.41,394.06 103.50,393.01 C105.58,391.97 109.34,387.97 112.89,385.08 C116.44,382.19 122.01,377.53 124.79,375.69 C127.57,373.84 128.16,375.10 129.59,374.02 C131.02,372.94 132.20,370.96 133.35,369.22 C134.50,367.48 134.53,365.28 136.48,363.58 C138.43,361.87 142.30,359.85 145.04,358.99 C147.78,358.12 150.19,358.12 152.94,358.37 C155.70,358.63 157.98,359.17 161.57,360.53 C165.17,361.90 169.84,365.03 174.51,366.57 C179.19,368.12 184.58,368.91 189.61,369.81 C194.65,370.71 196.30,371.25 204.71,371.96 C213.13,372.68 232.61,373.81 240.09,374.12 C247.58,374.43 244.56,374.07 249.63,373.81 C254.70,373.55 263.55,373.11 270.50,372.56 C277.46,372.00 284.42,371.16 291.38,370.47 C298.34,369.77 305.82,368.97 312.26,368.38 C318.69,367.79 327.04,367.16 330.00,366.92"/>
</g>
<rect x="44.3" y="345.9" width="285.0" height="268.6" fill="none" stroke="#8c8c8c" stroke-width="1.1"/>
<line x1="44.3" y1="614.5" x2="44.3" y2="619.2" stroke="#8c8c8c" stroke-width="1.1"/>
<text x="44.30" y="630.85" font-size="9.70" text-anchor="middle" textLength="25.0" lengthAdjust="spacingAndGlyphs" fill="#262626" font-family="Liberation Sans, sans-serif" >8,970</text>
<line x1="85.0" y1="614.5" x2="85.0" y2="619.2" stroke="#8c8c8c" stroke-width="1.1"/>
<text x="85.01" y="630.85" font-size="9.70" text-anchor="middle" textLength="25.0" lengthAdjust="spacingAndGlyphs" fill="#262626" font-family="Liberation Sans, sans-serif" >8,980</text>
<line x1="125.7" y1="614.5" x2="125.7" y2="619.2" stroke="#8c8c8c" stroke-width="1.1"/>
<text x="125.73" y="630.85" font-size="9.70" text-anchor="middle" textLength="25.0" lengthAdjust="spacingAndGlyphs" fill="#262626" font-family="Liberation Sans, sans-serif" >8,990</text>
<line x1="166.4" y1="614.5" x2="166.4" y2="619.2" stroke="#8c8c8c" stroke-width="1.1"/>
<text x="166.44" y="630.85" font-size="9.70" text-anchor="middle" textLength="25.0" lengthAdjust="spacingAndGlyphs" fill="#262626" font-family="Liberation Sans, sans-serif" >9,000</text>
<line x1="207.2" y1="614.5" x2="207.2" y2="619.2" stroke="#8c8c8c" stroke-width="1.1"/>
<text x="207.16" y="630.85" font-size="9.70" text-anchor="middle" textLength="25.0" lengthAdjust="spacingAndGlyphs" fill="#262626" font-family="Liberation Sans, sans-serif" >9,010</text>
<line x1="247.9" y1="614.5" x2="247.9" y2="619.2" stroke="#8c8c8c" stroke-width="1.1"/>
<text x="247.87" y="630.85" font-size="9.70" text-anchor="middle" textLength="25.0" lengthAdjust="spacingAndGlyphs" fill="#262626" font-family="Liberation Sans, sans-serif" >9,020</text>
<line x1="288.6" y1="614.5" x2="288.6" y2="619.2" stroke="#8c8c8c" stroke-width="1.1"/>
<text x="288.59" y="630.85" font-size="9.70" text-anchor="middle" textLength="25.0" lengthAdjust="spacingAndGlyphs" fill="#262626" font-family="Liberation Sans, sans-serif" >9,030</text>
<line x1="329.3" y1="614.5" x2="329.3" y2="619.2" stroke="#8c8c8c" stroke-width="1.1"/>
<text x="329.30" y="630.85" font-size="9.70" text-anchor="middle" textLength="25.0" lengthAdjust="spacingAndGlyphs" fill="#262626" font-family="Liberation Sans, sans-serif" >9,040</text>
<text x="186.80" y="646.05" font-size="10.60" text-anchor="middle" textLength="56.0" lengthAdjust="spacingAndGlyphs" fill="#262626" font-family="Liberation Sans, sans-serif" >Energy (eV)</text>
<line x1="248.5" y1="594.5" x2="257.9" y2="594.5" stroke="#000" stroke-width="2"/>
<line x1="248.5" y1="607.3" x2="257.9" y2="607.3" stroke="#f70d0d" stroke-width="2"/>
<text x="260.80" y="597.40" font-size="9.70" textLength="61.6" lengthAdjust="spacingAndGlyphs" fill="#262626" font-family="Liberation Sans, sans-serif" >Without HCHO</text>
<text x="260.80" y="610.80" font-size="9.70" textLength="48.0" lengthAdjust="spacingAndGlyphs" fill="#262626" font-family="Liberation Sans, sans-serif" >With HCHO</text>
<text transform="translate(23.70,479.70) rotate(-90)" text-anchor="middle" font-size="11" textLength="82.5" lengthAdjust="spacingAndGlyphs" fill="#262626" font-family="Liberation Sans, sans-serif">Absorption (a.u.)</text>
<text transform="translate(9.40,481.40) rotate(-90)" text-anchor="middle" font-size="13.3" textLength="38.9" lengthAdjust="spacingAndGlyphs" fill="#262626" font-family="Liberation Sans, sans-serif">450 °C</text>
<text x="45.60" y="440.70" font-size="11.00" textLength="16.4" lengthAdjust="spacingAndGlyphs" fill="#262626" font-family="Liberation Sans, sans-serif" >Pos</text>
<text x="65.10" y="440.70" font-size="11.00" fill="#262626" font-family="Liberation Sans, sans-serif" >1</text>
<text x="45.60" y="476.80" font-size="11.00" textLength="16.4" lengthAdjust="spacingAndGlyphs" fill="#262626" font-family="Liberation Sans, sans-serif" >Pos</text>
<text x="65.10" y="476.80" font-size="11.00" fill="#262626" font-family="Liberation Sans, sans-serif" >2</text>
<text x="45.60" y="514.40" font-size="11.00" textLength="16.4" lengthAdjust="spacingAndGlyphs" fill="#262626" font-family="Liberation Sans, sans-serif" >Pos</text>
<text x="65.10" y="514.40" font-size="11.00" fill="#262626" font-family="Liberation Sans, sans-serif" >3</text>
<text x="45.60" y="553.80" font-size="11.00" textLength="16.4" lengthAdjust="spacingAndGlyphs" fill="#262626" font-family="Liberation Sans, sans-serif" >Pos</text>
<text x="65.10" y="553.80" font-size="11.00" fill="#262626" font-family="Liberation Sans, sans-serif" >4</text>
<text x="45.60" y="592.60" font-size="11.00" textLength="16.4" lengthAdjust="spacingAndGlyphs" fill="#262626" font-family="Liberation Sans, sans-serif" >Pos</text>
<text x="65.10" y="592.60" font-size="11.00" fill="#262626" font-family="Liberation Sans, sans-serif" >5</text>
<text x="94.70" y="364.60" font-size="11.00" textLength="36.0" lengthAdjust="spacingAndGlyphs" fill="#262626" font-family="Liberation Sans, sans-serif" >8,987 eV</text>
<clipPath id="clipd"><rect x="386.6" y="342.9" width="285.7" height="271.6"/></clipPath>
<line x1="456.5" y1="376.0" x2="456.5" y2="538.0" stroke="#222" stroke-width="1.1" stroke-dasharray="1.25,3.7"/>
<g clip-path="url(#clipd)" fill="none" stroke-width="2" stroke-linejoin="round" stroke-linecap="round">
<path stroke="#000" d="M387.00,599.04 C389.17,598.85 395.78,598.43 400.00,597.94 C404.22,597.44 408.42,596.91 412.33,596.09 C416.23,595.26 420.13,594.55 423.42,593.00 C426.71,591.46 429.79,589.92 432.05,586.84 C434.31,583.76 435.54,577.60 436.98,574.51 C438.42,571.43 439.45,569.89 440.68,568.35 C441.91,566.81 443.14,566.91 444.38,565.27 C445.61,563.63 446.84,561.06 448.07,558.49 C449.31,555.92 450.33,552.12 451.77,549.86 C453.21,547.60 455.06,546.57 456.70,544.93 C458.35,543.29 460.70,540.71 461.63,540.00 C462.57,539.29 460.96,542.21 462.31,540.68 C463.65,539.15 467.65,533.80 469.70,530.82 C471.76,527.84 473.20,526.09 474.63,522.80 C476.07,519.52 476.89,513.87 478.33,511.09 C479.77,508.32 480.82,507.70 483.26,506.16 C485.71,504.62 489.91,502.97 493.00,501.85 C496.09,500.73 498.61,499.27 501.82,499.46 C505.03,499.65 507.56,500.89 512.26,503.01 C516.95,505.13 523.45,509.21 530.00,512.17 C536.55,515.14 544.38,518.64 551.57,520.80 C558.76,522.96 565.95,524.04 573.14,525.12 C580.33,526.19 585.22,527.45 594.71,527.27 C604.21,527.09 623.48,524.60 630.09,524.04 C636.70,523.47 630.19,524.60 634.38,523.88 C638.57,523.16 648.82,520.93 655.26,519.71 C661.69,518.49 670.04,517.10 673.00,516.58"/>
<path stroke="#f70d0d" d="M387.00,599.04 C389.17,598.85 395.78,598.43 400.00,597.94 C404.22,597.44 408.63,597.11 412.33,596.09 C416.02,595.06 419.31,593.93 422.19,591.77 C425.06,589.61 427.53,586.43 429.58,583.14 C431.64,579.86 432.87,575.95 434.51,572.05 C436.16,568.15 438.01,562.09 439.45,559.72 C440.88,557.36 441.91,558.70 443.14,557.87 C444.38,557.05 445.61,556.54 446.84,554.79 C448.07,553.05 449.31,549.66 450.54,547.40 C451.77,545.14 453.51,542.56 454.24,541.23 C454.97,539.91 453.57,540.56 454.91,539.45 C456.26,538.33 459.84,536.98 462.31,534.51 C464.77,532.05 467.65,527.12 469.70,524.65 C471.76,522.19 473.20,522.19 474.63,519.72 C476.07,517.26 476.89,512.22 478.33,509.86 C479.77,507.50 480.82,506.88 483.26,505.55 C485.71,504.21 489.91,502.79 493.00,501.85 C496.09,500.90 498.61,499.58 501.82,499.88 C505.03,500.17 507.56,501.58 512.26,503.63 C516.95,505.68 523.45,509.49 530.00,512.17 C536.55,514.85 544.38,517.75 551.57,519.72 C558.76,521.70 565.95,523.14 573.14,524.04 C580.33,524.94 585.22,525.48 594.71,525.12 C604.21,524.76 623.48,522.43 630.09,521.88 C636.70,521.33 630.19,522.33 634.38,521.80 C638.57,521.26 648.82,519.60 655.26,518.66 C661.69,517.72 670.04,516.58 673.00,516.16"/>
<path stroke="#000" d="M387.00,560.00 C389.78,559.79 399.37,559.19 403.70,558.75 C408.03,558.30 410.22,557.76 413.00,557.32 C415.78,556.88 417.73,557.42 420.40,556.09 C423.07,554.75 426.56,552.29 429.02,549.31 C431.49,546.33 433.34,541.81 435.19,538.21 C437.04,534.62 438.48,529.89 440.12,527.73 C441.76,525.58 443.41,527.22 445.05,525.27 C446.69,523.32 448.34,518.80 449.98,516.02 C451.62,513.25 452.65,511.30 454.91,508.63 C457.17,505.96 461.90,502.02 463.54,500.00 C465.18,497.98 463.54,498.31 464.77,496.49 C466.00,494.68 468.88,492.59 470.94,489.10 C472.99,485.61 475.66,478.31 477.10,475.54 C478.54,472.77 477.92,473.69 479.56,472.46 C481.21,471.22 484.95,469.07 486.96,468.14 C488.97,467.21 489.05,467.63 491.63,466.88 C494.20,466.13 499.18,463.64 502.41,463.64 C505.65,463.64 507.81,465.08 511.04,466.88 C514.28,468.68 518.67,472.63 521.83,474.43 C524.99,476.23 525.04,475.86 530.00,477.66 C534.96,479.45 544.38,483.23 551.57,485.21 C558.76,487.19 565.95,488.62 573.14,489.52 C580.33,490.42 585.22,490.96 594.71,490.60 C604.21,490.24 623.48,487.98 630.09,487.37 C636.70,486.75 630.19,487.56 634.38,486.93 C638.57,486.30 648.82,484.57 655.26,483.59 C661.69,482.62 670.04,481.51 673.00,481.09"/>
<path stroke="#f70d0d" d="M387.00,560.00 C389.78,559.79 399.37,558.99 403.70,558.75 C408.03,558.50 410.22,558.89 413.00,558.55 C415.78,558.21 417.93,558.04 420.40,556.70 C422.86,555.37 425.74,553.42 427.79,550.54 C429.85,547.66 431.18,543.55 432.72,539.45 C434.26,535.34 435.60,528.66 437.04,525.89 C438.48,523.11 440.02,523.52 441.35,522.80 C442.69,522.09 443.61,523.32 445.05,521.57 C446.49,519.83 448.34,514.69 449.98,512.33 C451.62,509.96 452.86,509.24 454.91,507.40 C456.97,505.55 460.66,502.95 462.31,501.23 C463.95,499.52 463.33,499.03 464.77,497.11 C466.21,495.19 468.88,493.21 470.94,489.71 C472.99,486.22 475.56,478.93 477.10,476.16 C478.64,473.38 478.54,474.31 480.18,473.07 C481.82,471.84 485.05,469.68 486.96,468.76 C488.87,467.84 489.05,468.27 491.63,467.53 C494.20,466.78 499.18,464.33 502.41,464.29 C505.65,464.26 507.81,465.55 511.04,467.31 C514.28,469.07 518.67,473.32 521.83,474.86 C524.99,476.41 525.04,475.03 530.00,476.58 C534.96,478.12 544.38,482.33 551.57,484.13 C558.76,485.93 565.95,486.57 573.14,487.37 C580.33,488.16 585.22,489.05 594.71,488.88 C604.21,488.70 623.48,486.82 630.09,486.29 C636.70,485.75 630.19,486.27 634.38,485.68 C638.57,485.09 648.82,483.59 655.26,482.76 C661.69,481.92 670.04,481.02 673.00,480.67"/>
<path stroke="#000" d="M387.00,521.80 C389.78,521.62 398.83,521.27 403.70,520.75 C408.57,520.23 412.75,519.53 416.23,518.66 C419.71,517.79 422.14,517.27 424.58,515.53 C427.01,513.79 429.28,509.98 430.84,508.23 C432.40,506.47 432.82,506.54 433.96,505.00 C435.09,503.46 436.22,500.58 437.65,498.96 C439.09,497.34 440.73,497.93 442.58,495.26 C444.43,492.59 446.90,485.81 448.75,482.94 C450.60,480.06 451.83,479.65 453.68,478.00 C455.53,476.36 457.79,475.13 459.84,473.07 C461.90,471.02 464.36,467.53 466.00,465.68 C467.65,463.83 468.47,464.24 469.70,461.98 C470.94,459.72 472.17,455.41 473.40,452.12 C474.63,448.83 475.66,444.52 477.10,442.26 C478.54,440.00 480.39,439.59 482.03,438.56 C483.67,437.53 485.13,436.81 486.96,436.09 C488.79,435.37 490.52,434.99 493.00,434.24 C495.48,433.50 498.61,431.55 501.82,431.64 C505.03,431.72 507.56,432.67 512.26,434.77 C516.95,436.86 523.45,441.46 530.00,444.22 C536.55,446.98 544.38,449.54 551.57,451.34 C558.76,453.14 565.95,454.14 573.14,455.01 C580.33,455.87 585.22,456.70 594.71,456.52 C604.21,456.34 623.48,454.49 630.09,453.93 C636.70,453.37 630.19,453.83 634.38,453.14 C638.57,452.45 648.82,450.77 655.26,449.80 C661.69,448.82 670.04,447.71 673.00,447.29"/>
<path stroke="#f70d0d" d="M387.00,521.80 C389.78,521.55 398.83,521.13 403.70,520.33 C408.57,519.53 412.92,518.49 416.23,516.99 C419.53,515.50 421.40,513.36 423.53,511.36 C425.67,509.36 427.29,508.30 429.02,505.00 C430.76,501.70 432.31,495.76 433.96,491.56 C435.60,487.37 437.24,481.91 438.89,479.85 C440.53,477.80 442.17,480.16 443.82,479.24 C445.46,478.31 447.10,476.26 448.75,474.31 C450.39,472.35 451.83,469.38 453.68,467.53 C455.53,465.68 457.58,465.16 459.84,463.21 C462.10,461.26 465.18,457.67 467.24,455.82 C469.29,453.97 470.94,453.35 472.17,452.12 C473.40,450.89 473.81,450.06 474.63,448.42 C475.46,446.78 476.07,443.90 477.10,442.26 C478.13,440.61 479.15,439.69 480.80,438.56 C482.44,437.43 484.93,436.30 486.96,435.48 C488.99,434.66 490.52,434.27 493.00,433.63 C495.48,432.99 498.61,431.27 501.82,431.64 C505.03,432.00 507.56,433.71 512.26,435.81 C516.95,437.91 523.45,441.85 530.00,444.22 C536.55,446.59 544.38,448.61 551.57,450.05 C558.76,451.48 565.95,452.28 573.14,452.85 C580.33,453.43 585.22,453.75 594.71,453.50 C604.21,453.25 623.48,451.85 630.09,451.34 C636.70,450.83 630.19,451.03 634.38,450.42 C638.57,449.82 648.82,448.58 655.26,447.71 C661.69,446.84 670.04,445.62 673.00,445.20"/>
<path stroke="#000" d="M387.00,482.76 C389.78,482.55 399.37,481.78 403.70,481.51 C408.03,481.23 409.60,482.08 413.00,481.09 C416.40,480.09 421.22,478.11 424.09,475.54 C426.97,472.97 428.51,469.17 430.26,465.68 C432.00,462.19 433.24,458.69 434.57,454.58 C435.91,450.48 437.24,443.59 438.27,441.02 C439.30,438.46 439.71,439.28 440.73,439.18 C441.76,439.07 443.51,440.20 444.43,440.41 C445.36,440.61 445.36,440.92 446.28,440.41 C447.21,439.89 448.54,438.66 449.98,437.33 C451.42,435.99 452.86,434.14 454.91,432.40 C456.97,430.65 459.64,429.69 462.31,426.85 C464.98,424.00 468.88,418.28 470.94,415.33 C472.99,412.38 473.40,411.43 474.63,409.17 C475.87,406.91 476.69,403.62 478.33,401.77 C479.97,399.92 482.28,398.98 484.49,398.07 C486.71,397.17 488.64,396.74 491.63,396.34 C494.62,395.94 499.18,395.26 502.41,395.69 C505.65,396.12 507.81,397.49 511.04,398.93 C514.28,400.37 518.67,403.06 521.83,404.32 C524.99,405.58 525.04,405.21 530.00,406.47 C534.96,407.73 544.38,410.50 551.57,411.86 C558.76,413.23 565.95,414.13 573.14,414.67 C580.33,415.21 585.22,415.39 594.71,415.10 C604.21,414.81 623.48,413.32 630.09,412.94 C636.70,412.57 630.19,413.38 634.38,412.85 C638.57,412.31 648.82,410.59 655.26,409.72 C661.69,408.85 670.04,407.98 673.00,407.63"/>
<path stroke="#f70d0d" d="M387.00,482.76 C389.78,482.55 399.37,481.89 403.70,481.51 C408.03,481.12 409.81,481.46 413.00,480.47 C416.19,479.48 420.19,477.80 422.86,475.54 C425.53,473.28 427.38,470.40 429.02,466.91 C430.67,463.42 431.49,459.31 432.72,454.58 C433.96,449.86 435.50,441.54 436.42,438.56 C437.35,435.58 437.24,436.81 438.27,436.71 C439.30,436.61 441.56,437.63 442.58,437.94 C443.61,438.25 443.20,439.28 444.43,438.56 C445.67,437.84 448.23,435.07 449.98,433.63 C451.73,432.19 452.65,431.37 454.91,429.93 C457.17,428.49 460.87,427.13 463.54,425.00 C466.21,422.87 469.09,419.61 470.94,417.18 C472.78,414.75 473.40,412.56 474.63,410.40 C475.87,408.24 476.69,406.09 478.33,404.24 C479.97,402.39 482.05,400.44 484.49,399.31 C486.94,398.18 490.73,397.70 493.00,397.46 C495.27,397.21 495.45,397.25 498.10,397.85 C500.75,398.46 504.21,399.47 508.89,401.09 C513.56,402.70 522.62,406.48 526.14,407.56 C529.66,408.64 525.76,406.83 530.00,407.55 C534.24,408.27 544.38,410.89 551.57,411.86 C558.76,412.84 565.95,413.01 573.14,413.37 C580.33,413.73 585.22,414.17 594.71,414.02 C604.21,413.88 623.48,412.88 630.09,412.51 C636.70,412.14 630.19,412.34 634.38,411.80 C638.57,411.27 648.82,410.06 655.26,409.30 C661.69,408.53 670.04,407.56 673.00,407.21"/>
<path stroke="#000" d="M387.00,444.79 C389.78,444.51 399.37,443.74 403.70,443.12 C408.03,442.49 410.22,442.09 413.00,441.02 C415.78,439.96 418.34,438.35 420.40,436.71 C422.45,435.07 423.99,433.12 425.33,431.16 C426.66,429.21 427.18,428.67 428.41,425.00 C429.64,421.33 431.18,416.33 432.72,409.17 C434.26,402.01 436.52,387.49 437.65,382.05 C438.78,376.61 438.68,376.91 439.50,376.50 C440.32,376.09 441.45,377.53 442.58,379.58 C443.71,381.64 445.15,386.88 446.28,388.83 C447.41,390.78 447.93,391.29 449.36,391.29 C450.80,391.29 452.75,390.16 454.91,388.83 C457.07,387.49 460.05,385.13 462.31,383.28 C464.57,381.43 466.62,379.38 468.47,377.73 C470.32,376.09 471.96,375.37 473.40,373.42 C474.84,371.47 475.87,368.08 477.10,366.02 C478.33,363.97 479.15,362.33 480.80,361.09 C482.44,359.86 484.93,359.04 486.96,358.63 C488.99,358.22 490.87,358.39 493.00,358.63 C495.13,358.86 496.52,359.24 499.73,360.03 C502.94,360.82 507.21,362.22 512.26,363.37 C517.30,364.52 523.56,365.74 530.00,366.92 C536.44,368.10 543.92,369.60 550.88,370.47 C557.83,371.34 564.79,371.79 571.75,372.14 C578.71,372.49 585.67,372.63 592.63,372.56 C599.59,372.49 606.55,372.07 613.50,371.72 C620.46,371.37 627.42,371.03 634.38,370.47 C641.34,369.91 648.82,369.04 655.26,368.38 C661.69,367.72 670.04,366.82 673.00,366.50"/>
<path stroke="#f70d0d" d="M387.00,444.79 C389.78,444.51 399.37,443.85 403.70,443.12 C408.03,442.39 410.22,441.68 413.00,440.41 C415.78,439.14 418.34,437.22 420.40,435.48 C422.45,433.73 424.09,431.68 425.33,429.93 C426.56,428.18 426.76,428.46 427.79,425.00 C428.82,421.54 429.95,416.33 431.49,409.17 C433.03,402.01 435.80,387.49 437.04,382.05 C438.27,376.61 438.06,376.91 438.89,376.50 C439.71,376.09 440.73,377.43 441.97,379.58 C443.20,381.74 444.33,388.42 446.28,389.45 C448.23,390.47 451.42,386.77 453.68,385.75 C455.94,384.72 457.58,384.72 459.84,383.28 C462.10,381.84 465.18,378.76 467.24,377.12 C469.29,375.48 470.52,375.27 472.17,373.42 C473.81,371.57 475.46,368.18 477.10,366.02 C478.74,363.87 480.39,361.71 482.03,360.48 C483.67,359.24 485.13,358.90 486.96,358.63 C488.79,358.36 490.18,358.43 493.00,358.88 C495.82,359.32 500.00,360.46 503.91,361.28 C507.81,362.10 512.08,363.02 516.43,363.79 C520.78,364.55 524.26,364.83 530.00,365.88 C535.74,366.92 543.92,369.11 550.88,370.05 C557.83,370.99 564.79,371.23 571.75,371.51 C578.71,371.79 585.67,371.79 592.63,371.72 C599.59,371.65 606.55,371.44 613.50,371.09 C620.46,370.75 627.42,370.16 634.38,369.63 C641.34,369.11 648.82,368.49 655.26,367.96 C661.69,367.44 670.04,366.75 673.00,366.50"/>
</g>
<rect x="386.6" y="345.9" width="285.7" height="268.6" fill="none" stroke="#8c8c8c" stroke-width="1.1"/>
<line x1="386.6" y1="614.5" x2="386.6" y2="619.2" stroke="#8c8c8c" stroke-width="1.1"/>
<text x="386.60" y="630.85" font-size="9.70" text-anchor="middle" textLength="25.0" lengthAdjust="spacingAndGlyphs" fill="#262626" font-family="Liberation Sans, sans-serif" >8,970</text>
<line x1="427.4" y1="614.5" x2="427.4" y2="619.2" stroke="#8c8c8c" stroke-width="1.1"/>
<text x="427.41" y="630.85" font-size="9.70" text-anchor="middle" textLength="25.0" lengthAdjust="spacingAndGlyphs" fill="#262626" font-family="Liberation Sans, sans-serif" >8,980</text>
<line x1="468.2" y1="614.5" x2="468.2" y2="619.2" stroke="#8c8c8c" stroke-width="1.1"/>
<text x="468.23" y="630.85" font-size="9.70" text-anchor="middle" textLength="25.0" lengthAdjust="spacingAndGlyphs" fill="#262626" font-family="Liberation Sans, sans-serif" >8,990</text>
<line x1="509.0" y1="614.5" x2="509.0" y2="619.2" stroke="#8c8c8c" stroke-width="1.1"/>
<text x="509.04" y="630.85" font-size="9.70" text-anchor="middle" textLength="25.0" lengthAdjust="spacingAndGlyphs" fill="#262626" font-family="Liberation Sans, sans-serif" >9,000</text>
<line x1="549.9" y1="614.5" x2="549.9" y2="619.2" stroke="#8c8c8c" stroke-width="1.1"/>
<text x="549.86" y="630.85" font-size="9.70" text-anchor="middle" textLength="25.0" lengthAdjust="spacingAndGlyphs" fill="#262626" font-family="Liberation Sans, sans-serif" >9,010</text>
<line x1="590.7" y1="614.5" x2="590.7" y2="619.2" stroke="#8c8c8c" stroke-width="1.1"/>
<text x="590.67" y="630.85" font-size="9.70" text-anchor="middle" textLength="25.0" lengthAdjust="spacingAndGlyphs" fill="#262626" font-family="Liberation Sans, sans-serif" >9,020</text>
<line x1="631.5" y1="614.5" x2="631.5" y2="619.2" stroke="#8c8c8c" stroke-width="1.1"/>
<text x="631.49" y="630.85" font-size="9.70" text-anchor="middle" textLength="25.0" lengthAdjust="spacingAndGlyphs" fill="#262626" font-family="Liberation Sans, sans-serif" >9,030</text>
<line x1="672.3" y1="614.5" x2="672.3" y2="619.2" stroke="#8c8c8c" stroke-width="1.1"/>
<text x="672.30" y="630.85" font-size="9.70" text-anchor="middle" textLength="25.0" lengthAdjust="spacingAndGlyphs" fill="#262626" font-family="Liberation Sans, sans-serif" >9,040</text>
<text x="529.45" y="646.05" font-size="10.60" text-anchor="middle" textLength="56.0" lengthAdjust="spacingAndGlyphs" fill="#262626" font-family="Liberation Sans, sans-serif" >Energy (eV)</text>
<line x1="589.3" y1="594.9" x2="598.7" y2="594.9" stroke="#000" stroke-width="2"/>
<line x1="589.3" y1="607.6" x2="598.7" y2="607.6" stroke="#f70d0d" stroke-width="2"/>
<text x="601.80" y="597.60" font-size="9.70" textLength="61.6" lengthAdjust="spacingAndGlyphs" fill="#262626" font-family="Liberation Sans, sans-serif" >Without HCHO</text>
<text x="601.80" y="611.00" font-size="9.70" textLength="48.0" lengthAdjust="spacingAndGlyphs" fill="#262626" font-family="Liberation Sans, sans-serif" >With HCHO</text>
<text transform="translate(372.50,479.70) rotate(-90)" text-anchor="middle" font-size="11" textLength="82.5" lengthAdjust="spacingAndGlyphs" fill="#262626" font-family="Liberation Sans, sans-serif">Absorption (a.u.)</text>
<text x="390.30" y="438.00" font-size="11.00" textLength="16.4" lengthAdjust="spacingAndGlyphs" fill="#262626" font-family="Liberation Sans, sans-serif" >Pos</text>
<text x="409.80" y="438.00" font-size="11.00" fill="#262626" font-family="Liberation Sans, sans-serif" >1</text>
<text x="390.30" y="474.80" font-size="11.00" textLength="16.4" lengthAdjust="spacingAndGlyphs" fill="#262626" font-family="Liberation Sans, sans-serif" >Pos</text>
<text x="409.80" y="474.80" font-size="11.00" fill="#262626" font-family="Liberation Sans, sans-serif" >2</text>
<text x="390.30" y="512.80" font-size="11.00" textLength="16.4" lengthAdjust="spacingAndGlyphs" fill="#262626" font-family="Liberation Sans, sans-serif" >Pos</text>
<text x="409.80" y="512.80" font-size="11.00" fill="#262626" font-family="Liberation Sans, sans-serif" >3</text>
<text x="390.30" y="551.80" font-size="11.00" textLength="16.4" lengthAdjust="spacingAndGlyphs" fill="#262626" font-family="Liberation Sans, sans-serif" >Pos</text>
<text x="409.80" y="551.80" font-size="11.00" fill="#262626" font-family="Liberation Sans, sans-serif" >4</text>
<text x="390.30" y="590.80" font-size="11.00" textLength="16.4" lengthAdjust="spacingAndGlyphs" fill="#262626" font-family="Liberation Sans, sans-serif" >Pos</text>
<text x="409.80" y="590.80" font-size="11.00" fill="#262626" font-family="Liberation Sans, sans-serif" >5</text>
<text x="438.10" y="368.80" font-size="11.00" textLength="36.0" lengthAdjust="spacingAndGlyphs" fill="#262626" font-family="Liberation Sans, sans-serif" >8,987 eV</text>
<text x="14.0" y="13.8" font-size="16.2" font-weight="bold" fill="#000" stroke="#000" stroke-width="0.5" font-family="Liberation Sans, sans-serif">a</text>
<text x="363.3" y="13.8" font-size="16.2" font-weight="bold" fill="#000" stroke="#000" stroke-width="0.5" font-family="Liberation Sans, sans-serif">b</text>
<text x="14.4" y="347.3" font-size="16.2" font-weight="bold" fill="#000" stroke="#000" stroke-width="0.5" font-family="Liberation Sans, sans-serif">c</text>
<text x="362.6" y="347.4" font-size="16.2" font-weight="bold" fill="#000" stroke="#000" stroke-width="0.5" font-family="Liberation Sans, sans-serif">d</text>
</svg></body></html>
